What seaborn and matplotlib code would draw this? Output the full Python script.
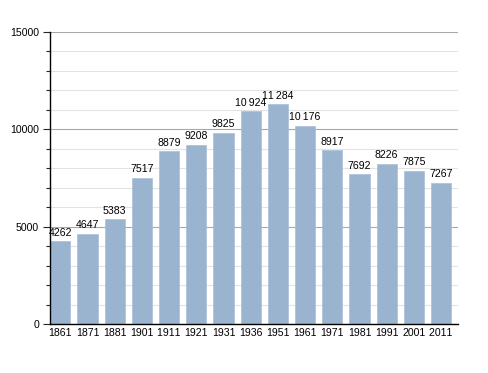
import matplotlib
matplotlib.use("Agg")
import matplotlib.pyplot as plt
import seaborn as sns
import pandas as pd
from matplotlib.ticker import MultipleLocator

years = ["1861", "1871", "1881", "1901", "1911", "1921", "1931", "1936",
         "1951", "1961", "1971", "1981", "1991", "2001", "2011"]
population = [4262, 4647, 5383, 7517, 8879, 9208, 9825, 10924,
              11284, 10176, 8917, 7692, 8226, 7875, 7267]

df = pd.DataFrame({"year": years, "pop": population})

sns.set_style("white")
plt.rcParams['font.family'] = ['Liberation Sans', 'DejaVu Sans']


def nokern(s):
    # break the "11" kerning pair so digits stay evenly spaced
    return s.replace("11", "1\u200b1")


fs = 7.6
fig = plt.figure(figsize=(4.88, 3.73), dpi=100)
ax = fig.add_axes([50/488, 49/373, 408/488, 292/373])

ax.yaxis.set_major_locator(MultipleLocator(5000))
ax.yaxis.set_minor_locator(MultipleLocator(1000))
ax.grid(which="minor", axis="y", color="#e3e3e3", linewidth=0.8)
ax.grid(which="major", axis="y", color="#a8a8a8", linewidth=0.8)
ax.set_axisbelow(True)

sns.barplot(data=df, x="year", y="pop", color="#9ab3cf", saturation=1,
            width=0.74, ax=ax, zorder=2, edgecolor="#a9bfd8", linewidth=0.5)

for i, v in enumerate(population):
    label = f"{v:,}".replace(",", "\u2009") if v >= 10000 else str(v)
    ax.text(i, v + 180, nokern(label), ha="center", va="bottom", fontsize=fs,
            color="black", zorder=3)

ax.set_xlim(-0.38, 14.62)
ax.set_ylim(0, 15000)
ax.set_xticks(range(len(years)))
ax.set_xticklabels([nokern(y) for y in years])
ax.set_xlabel("")
ax.set_ylabel("")
for s in ["top", "right"]:
    ax.spines[s].set_visible(False)
ax.spines["left"].set_color("black")
ax.spines["bottom"].set_color("black")
ax.spines["left"].set_linewidth(1)
ax.spines["bottom"].set_linewidth(1)
ax.tick_params(axis="y", which="major", length=5, width=0.8, left=True,
               labelsize=fs, pad=3, labelcolor="black")
ax.tick_params(axis="y", which="minor", length=3, width=0.8, left=True)
ax.tick_params(axis="x", length=0, labelsize=fs, pad=3, labelcolor="black")

fig.savefig("out.png", dpi=100)
